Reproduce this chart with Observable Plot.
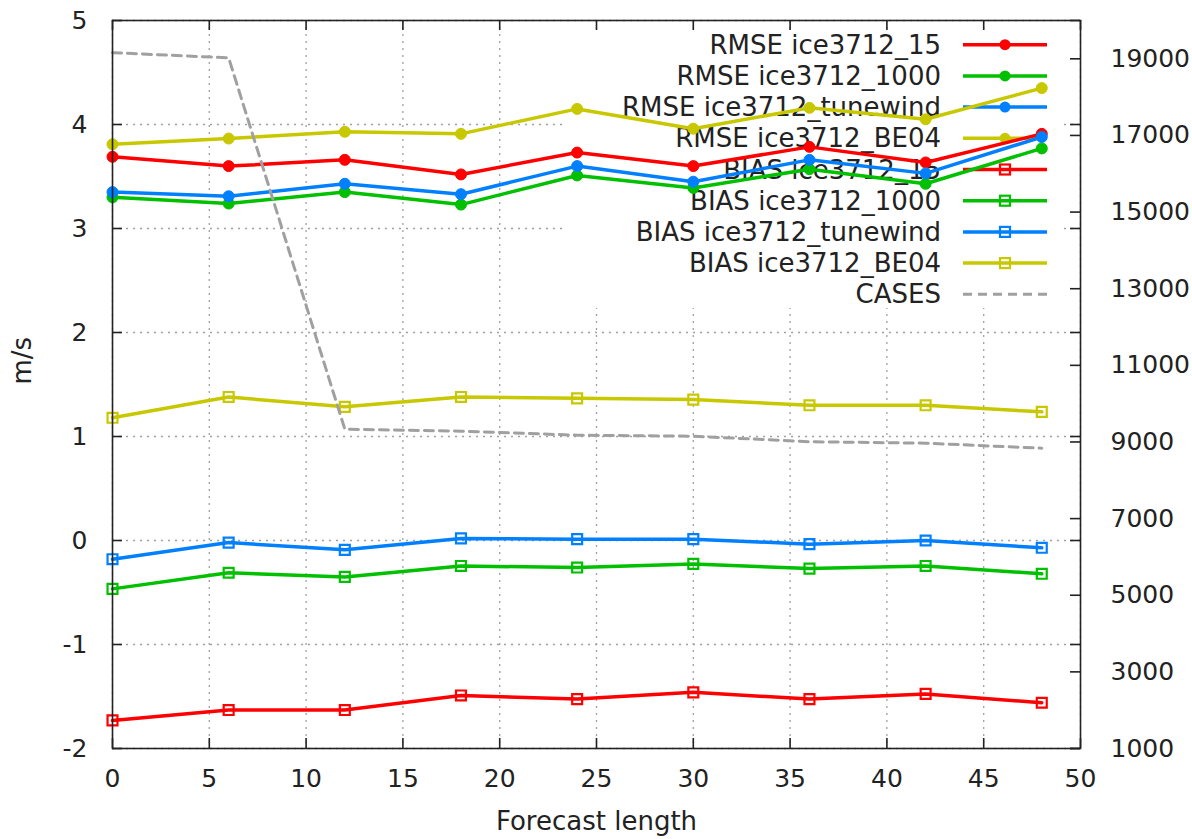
<!DOCTYPE html>
<html><head><meta charset="utf-8">
<script src="https://cdn.jsdelivr.net/npm/d3@7"></script>
<script src="https://cdn.jsdelivr.net/npm/@observablehq/plot@0.6"></script>
<style>body{margin:0;background:#fff} svg{display:block}</style>
</head><body><div id="chart"></div>
<script>
// ---- data ----
const leadTimes = [0, 6, 12, 18, 24, 30, 36, 42, 48];
const rmse15       = [3.69, 3.60, 3.66, 3.52, 3.73, 3.60, 3.785, 3.635, 3.91];
const rmse1000     = [3.30, 3.24, 3.35, 3.23, 3.51, 3.39, 3.57, 3.43, 3.77];
const rmseTunewind = [3.35, 3.31, 3.43, 3.33, 3.60, 3.45, 3.66, 3.53, 3.88];
const rmseBE04     = [3.81, 3.865, 3.93, 3.91, 4.15, 3.96, 4.16, 4.05, 4.35];
const bias15       = [-1.73, -1.63, -1.63, -1.49, -1.525, -1.46, -1.525, -1.475, -1.56];
const bias1000     = [-0.465, -0.31, -0.35, -0.245, -0.26, -0.225, -0.27, -0.245, -0.32];
const biasTunewind = [-0.18, -0.02, -0.09, 0.02, 0.013, 0.013, -0.035, 0.0, -0.07];
const biasBE04     = [1.18, 1.38, 1.285, 1.38, 1.367, 1.355, 1.30, 1.30, 1.237];
const cases        = [19160, 19025, 9333, 9281, 9177, 9150, 9007, 8968, 8837];

const seriesNames = ["RMSE ice3712_15", "RMSE ice3712_1000", "RMSE ice3712_tunewind", "RMSE ice3712_BE04",
                     "BIAS ice3712_15", "BIAS ice3712_1000", "BIAS ice3712_tunewind", "BIAS ice3712_BE04", "CASES"];
const seriesValues = [rmse15, rmse1000, rmseTunewind, rmseBE04, bias15, bias1000, biasTunewind, biasBE04];
const seriesColors = ["#ff0000", "#00c000", "#0080ff", "#c8c800", "#ff0000", "#00c000", "#0080ff", "#c8c800", "#a0a0a0"];
const seriesMarker = ["circle", "circle", "circle", "circle", "square", "square", "square", "square", "none"];

const xTicks = [0, 5, 10, 15, 20, 25, 30, 35, 40, 45, 50];
const yTicks = [-2, -1, 0, 1, 2, 3, 4, 5];
const y2Ticks = [1000, 3000, 5000, 7000, 9000, 11000, 13000, 15000, 17000, 19000];
const y1Domain = [-2, 5];
const y2Domain = [1000, 20000];

// ---- layout ----
const W = 1192, H = 839, mL = 112, mR = 112, mT = 20, mB = 91;
const frameW = W - mL - mR, frameH = H - mT - mB;
const toY1 = d3.scaleLinear().domain(y2Domain).range(y1Domain);
const ink = "#222";

const dataMarks = [];
seriesValues.forEach((vals, s) => {
  const rows = leadTimes.map((t, i) => ({t, v: vals[i]}));
  dataMarks.push(Plot.line(rows, {x: "t", y: "v", stroke: seriesColors[s], strokeWidth: 3.5}));
  if (seriesMarker[s] === "circle") {
    dataMarks.push(Plot.dot(rows, {x: "t", y: "v", r: 5.5, fill: seriesColors[s], stroke: seriesColors[s], strokeWidth: 1}));
  } else {
    dataMarks.push(Plot.dot(rows, {x: "t", y: "v", r: 5.6, symbol: "square", fill: "none", stroke: seriesColors[s], strokeWidth: 2.2}));
  }
});
const caseRows = leadTimes.map((t, i) => ({t, v: toY1(cases[i])}));
dataMarks.push(Plot.line(caseRows, {x: "t", y: "v", stroke: seriesColors[8], strokeWidth: 3, strokeDasharray: "9,6"}));

const plot = Plot.plot({
  width: W, height: H,
  marginLeft: mL, marginRight: mR, marginTop: mT, marginBottom: mB,
  style: {fontFamily: "DejaVu Sans", fontSize: "25px", color: ink, background: "#fff"},
  x: {domain: [0, 50], label: null},
  y: {domain: y1Domain, label: null},
  marks: [
    Plot.ruleX(xTicks, {x: d => d, stroke: "#a0a0a0", strokeWidth: 1.3, strokeDasharray: "2,5"}),
    Plot.ruleY(yTicks, {y: d => d, stroke: "#a0a0a0", strokeWidth: 1.3, strokeDasharray: "2,5"}),
    ...dataMarks,
    Plot.frame({stroke: ink, strokeWidth: 1.6}),
    Plot.tickY(yTicks, {y: d => d, insetRight: frameW - 10, stroke: ink, strokeWidth: 1.6}),
    Plot.tickY(yTicks, {y: d => d, insetLeft: frameW - 10, stroke: ink, strokeWidth: 1.6}),
    Plot.tickY(y2Ticks, {y: d => toY1(d), insetLeft: frameW - 10, stroke: ink, strokeWidth: 1.6}),
    Plot.tickX(xTicks, {x: d => d, insetTop: frameH - 10, stroke: ink, strokeWidth: 1.6}),
    Plot.tickX(xTicks, {x: d => d, insetBottom: frameH - 10, stroke: ink, strokeWidth: 1.6}),
    Plot.axisX(xTicks, {tickSize: 0, tickPadding: 21, fontSize: 25, tickFormat: d => String(d), fill: ink}),
    Plot.axisY(yTicks, {anchor: "left", tickSize: 0, tickPadding: 25, fontSize: 25, tickFormat: d => String(d), fill: ink}),
    Plot.axisY(y2Ticks.map(d => toY1(d)), {anchor: "right", tickSize: 0, tickPadding: 30, fontSize: 25,
      tickFormat: d => String(Math.round(toY1.invert(d))), fill: ink}),
    Plot.text(["Forecast length"], {text: d => d, frameAnchor: "bottom", dy: 81, fontSize: 26, fill: ink}),
    Plot.text(["m/s"], {text: d => d, frameAnchor: "left", dx: -90, rotate: -90, fontSize: 26, fill: ink})
  ]
});

// ---- legend (opaque key, drawn after the grid and before the data curves) ----
const lg = d3.create("svg:g").attr("font-family", "DejaVu Sans").attr("font-size", 26);
lg.append("rect").attr("x", 567).attr("y", 29).attr("width", 495).attr("height", 279).attr("fill", "#fff");
seriesNames.forEach((name, i) => {
  const y = 44.7 + 31.2 * i;
  lg.append("text").attr("x", 941).attr("y", y).attr("dy", "0.35em").attr("text-anchor", "end")
    .attr("fill", ink).text(name);
  const ln = lg.append("line").attr("x1", 963).attr("x2", 1047).attr("y1", y).attr("y2", y)
    .attr("stroke", seriesColors[i]).attr("stroke-width", i === 8 ? 3 : 3.5);
  if (i === 8) ln.attr("stroke-dasharray", "9,6");
  if (seriesMarker[i] === "circle") {
    lg.append("circle").attr("cx", 1005).attr("cy", y).attr("r", 5.5).attr("fill", seriesColors[i]);
  } else if (seriesMarker[i] === "square") {
    lg.append("rect").attr("x", 1005 - 5).attr("y", y - 5).attr("width", 10).attr("height", 10)
      .attr("fill", "none").attr("stroke", seriesColors[i]).attr("stroke-width", 2.2);
  }
});
const firstLine = plot.querySelector('g[aria-label="line"]');
if (firstLine) firstLine.parentNode.insertBefore(lg.node(), firstLine);
else plot.appendChild(lg.node());

document.getElementById("chart").appendChild(plot);
</script>
</body></html>
